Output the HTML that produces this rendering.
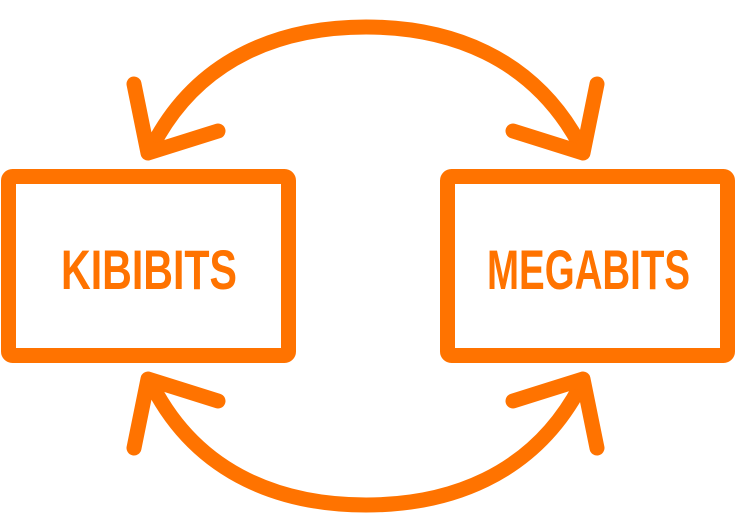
<!DOCTYPE html>
<html><head><style>html,body{margin:0;padding:0;background:#fff;}svg{display:block}</style></head>
<body>
<svg width="737" height="532" viewBox="0 0 737 532" xmlns="http://www.w3.org/2000/svg">
<g fill="none" stroke="#FF7300" stroke-width="15" stroke-linecap="round" stroke-linejoin="round">
<rect x="8.5" y="176.5" width="280" height="179" rx="4"/>
<rect x="447.5" y="176.5" width="280" height="179" rx="4"/>
<path d="M153 145 C200 55 285 27 366 27 C447 27 532 55 580 145"/>
<path d="M153 387 C200 477 285 505 366 505 C447 505 532 477 580 387"/>
<polyline points="134,84 148,153 218,131"/>
<polyline points="597,84 583,153 513,131"/>
<polyline points="134,448 148,379 218,401"/>
<polyline points="597,448 583,379 513,401"/>
</g>
<g fill="#FF7300" font-family="'Liberation Sans Narrow','Liberation Sans',sans-serif" font-weight="bold" font-size="56">
<text x="61" y="289" textLength="176" lengthAdjust="spacingAndGlyphs">KIBIBITS</text>
<text x="487" y="289" textLength="203" lengthAdjust="spacingAndGlyphs">MEGABITS</text>
</g>
</svg>
</body></html>
